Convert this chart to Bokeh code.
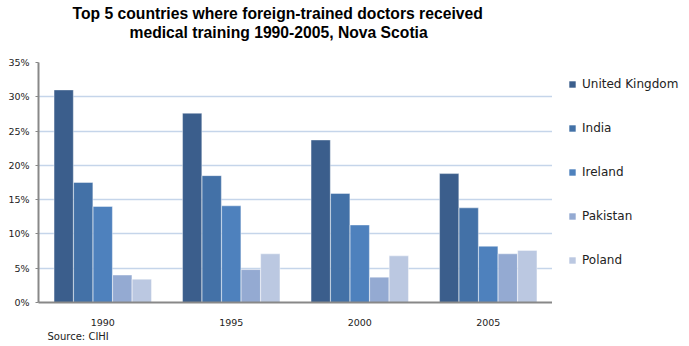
from bokeh.plotting import figure
from bokeh.layouts import row
from bokeh.models import (FactorRange, Range1d, ColumnDataSource, Legend, LegendItem,
                          Title, FixedTicker, CustomJSTickFormatter)
from bokeh.transform import dodge
from bokeh.embed import file_html
from bokeh.resources import INLINE

years = ["1990", "1995", "2000", "2005"]
countries = ["United Kingdom", "India", "Ireland", "Pakistan", "Poland"]
uk = [31.0, 27.6, 23.7, 18.8]
india = [17.5, 18.5, 15.9, 13.8]
ireland = [14.0, 14.1, 11.3, 8.2]
pakistan = [4.0, 4.8, 3.7, 7.1]
poland = [3.4, 7.1, 6.8, 7.6]
y_ticks = [0, 5, 10, 15, 20, 25, 30, 35]

colors = ["#3b5e8c", "#4371a7", "#4e81bd", "#94aad2", "#bbc8e1"]
offsets = [-0.304, -0.152, 0.0, 0.152, 0.304]

src = ColumnDataSource(dict(year=years, s0=uk, s1=india, s2=ireland, s3=pakistan, s4=poland))

p = figure(width=552, height=346, x_range=FactorRange(factors=years, range_padding=0),
           y_range=Range1d(0, 35), output_backend="svg", toolbar_location=None,
           min_border_left=38, min_border_right=0, min_border_top=62, min_border_bottom=44)
p.outline_line_color = None

for i in range(5):
    p.vbar(x=dodge("year", offsets[i], range=p.x_range), top="s%d" % i, width=0.15,
           source=src, fill_color=colors[i], line_color="white", line_alpha=0.5,
           line_width=0.8)

p.yaxis.ticker = FixedTicker(ticks=y_ticks)
p.yaxis.formatter = CustomJSTickFormatter(code="return tick + '%';")
p.yaxis.axis_line_color = "#888888"
p.yaxis.axis_line_width = 2
p.yaxis.major_tick_out = 3
p.yaxis.major_tick_in = 0
p.yaxis.major_tick_line_color = "#888888"
p.yaxis.minor_tick_line_color = None
p.yaxis.major_label_standoff = 6
p.yaxis.major_label_text_font = "DejaVu Sans"
p.yaxis.major_label_text_font_size = "9.5px"
p.yaxis.major_label_text_color = "#222222"

p.xaxis.axis_line_color = "#888888"
p.xaxis.axis_line_width = 2
p.xaxis.major_tick_line_color = None
p.xaxis.major_tick_out = 0
p.xaxis.major_label_standoff = 16
p.xaxis.major_label_text_font = "DejaVu Sans"
p.xaxis.major_label_text_font_size = "9.5px"
p.xaxis.major_label_text_color = "#222222"

p.xgrid.grid_line_color = None
p.ygrid.grid_line_color = "#c5d5ea"
p.ygrid.grid_line_width = 1.5
p.ygrid.ticker = FixedTicker(ticks=y_ticks)

# title: spacer (closest to frame), then line 2, then line 1
p.add_layout(Title(text=" ", text_font_size="1px", standoff=19), "above")
p.add_layout(Title(text="medical training 1990-2005, Nova Scotia", align="left", offset=91,
                   text_font="Liberation Sans", text_font_size="15.7px",
                   text_font_style="bold", text_color="#000000", standoff=0), "above")
p.add_layout(Title(text="Top 5 countries where foreign-trained doctors received", align="left",
                   offset=34, text_font="Liberation Sans", text_font_size="15.7px",
                   text_font_style="bold", text_color="#000000", standoff=0), "above")

p.add_layout(Title(text="Source: CIHI", align="left", offset=9, text_font="DejaVu Sans",
                   text_font_size="10px", text_font_style="normal", text_color="#222222",
                   standoff=0), "below")

# legend panel (frames of a row are aligned, so keep the same top/bottom borders)
lf = figure(width=137, height=346, x_range=Range1d(0, 1), y_range=Range1d(0, 1),
            output_backend="svg", toolbar_location=None, x_axis_location=None,
            y_axis_location=None, min_border_left=1, min_border_top=62,
            min_border_right=0, min_border_bottom=44)
lf.outline_line_color = None
lf.xgrid.visible = False
lf.ygrid.visible = False
dummies = [lf.vbar(x=[5], top=[5], bottom=[4], width=0.1, fill_color=colors[i], line_color=None)
           for i in range(5)]
legend = Legend(items=[LegendItem(label=countries[i], renderers=[dummies[i]]) for i in range(5)],
                location="top_left", padding=0, margin=15, spacing=30,
                glyph_width=8, glyph_height=8, label_height=10, label_standoff=6,
                label_text_font="DejaVu Sans", label_text_font_size="12px",
                label_text_color="#222222", border_line_color=None,
                background_fill_alpha=0)
lf.add_layout(legend, "center")

open("out.html", "w").write(file_html(row(p, lf), INLINE))
